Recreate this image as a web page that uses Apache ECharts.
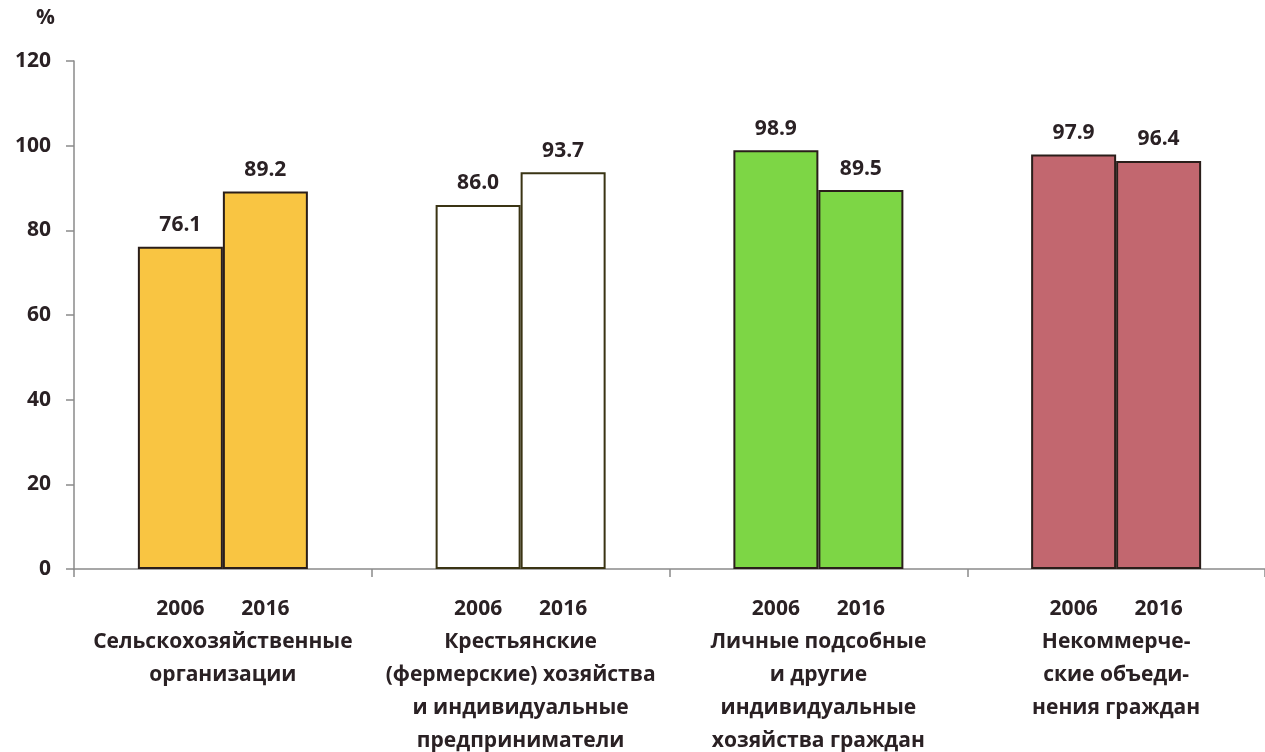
<!DOCTYPE html>
<html><head><meta charset="utf-8">
<script src="https://cdn.jsdelivr.net/npm/echarts@6/dist/echarts.min.js"></script>
<style>html,body{margin:0;padding:0;background:#fff}#c{width:1265px;height:752px}</style>
</head><body><div id="c"></div>
<script>
const categories = [
  'Сельскохозяйственные\nорганизации',
  'Крестьянские\n(фермерские) хозяйства\nи индивидуальные\nпредприниматели',
  'Личные подсобные\nи другие\nиндивидуальные\nхозяйства граждан',
  'Некоммерче-\nские объеди-\nнения граждан'
];
const years = ['2006', '2016'];
const values2006 = [76.1, 86.0, 98.9, 97.9];
const values2016 = [89.2, 93.7, 89.5, 96.4];
const fillColors = ['#F9C542', '#FFFFFF', '#7DD645', '#C2676F'];
const borderColors = ['#2a1e1a', '#3a3414', '#2a1e1a', '#2a1e1a'];
const yTicks = [0, 20, 40, 60, 80, 100, 120];

const txt = '#2a2124';
const font = '"Open Sans", sans-serif';
const fs = 21;

function mk(vals) {
  return vals.map((v, i) => ({
    value: v,
    itemStyle: { color: fillColors[i], borderColor: borderColors[i], borderWidth: 2 }
  }));
}

const chart = echarts.init(document.getElementById('c'));
chart.setOption({
  animation: false,
  textStyle: { fontFamily: font },
  grid: { left: 74, top: 61, width: 1192, height: 508, containLabel: false },
  graphic: [{ type: 'text', left: 36, top: 8, style: { text: '%', font: 'bold ' + fs + 'px ' + font, fill: txt } }],
  xAxis: {
    type: 'category',
    data: categories,
    axisLine: { lineStyle: { color: '#8a8a8a', width: 1.5 } },
    axisTick: { show: true, length: 8, lineStyle: { color: '#8a8a8a', width: 1.5 } },
    axisLabel: {
      interval: 0,
      margin: 24,
      formatter: function (v) {
        const lines = v.split('\n').map(l => '{n|' + l + '}').join('\n');
        return '{y|' + years[0] + '}{y|' + years[1] + '}\n' + lines;
      },
      rich: {
        y: { width: 85, align: 'center', fontSize: fs, fontWeight: 'bold', color: txt, lineHeight: 33, fontFamily: font },
        n: { align: 'center', fontSize: fs, fontWeight: 'bold', color: txt, lineHeight: 33, fontFamily: font }
      }
    }
  },
  yAxis: {
    type: 'value',
    min: 0, max: 120, interval: 20,
    axisLine: { show: true, lineStyle: { color: '#8a8a8a', width: 1.5 } },
    axisTick: { show: true, length: 8, lineStyle: { color: '#8a8a8a', width: 1.5 } },
    splitLine: { show: false },
    axisLabel: {
      margin: 23,
      fontSize: fs, fontWeight: 'bold', color: txt, fontFamily: font,
      formatter: v => yTicks.includes(v) ? String(v) : ''
    }
  },
  series: [
    {
      type: 'bar', name: years[0], data: mk(values2006), barWidth: 85, barGap: '0%',
      label: { show: true, position: 'top', distance: 11, formatter: p => p.value.toFixed(1), fontSize: fs, fontWeight: 'bold', color: txt, fontFamily: font }
    },
    {
      type: 'bar', name: years[1], data: mk(values2016), barWidth: 85, barGap: '0%',
      label: { show: true, position: 'top', distance: 11, formatter: p => p.value.toFixed(1), fontSize: fs, fontWeight: 'bold', color: txt, fontFamily: font }
    }
  ]
});
</script></body></html>
